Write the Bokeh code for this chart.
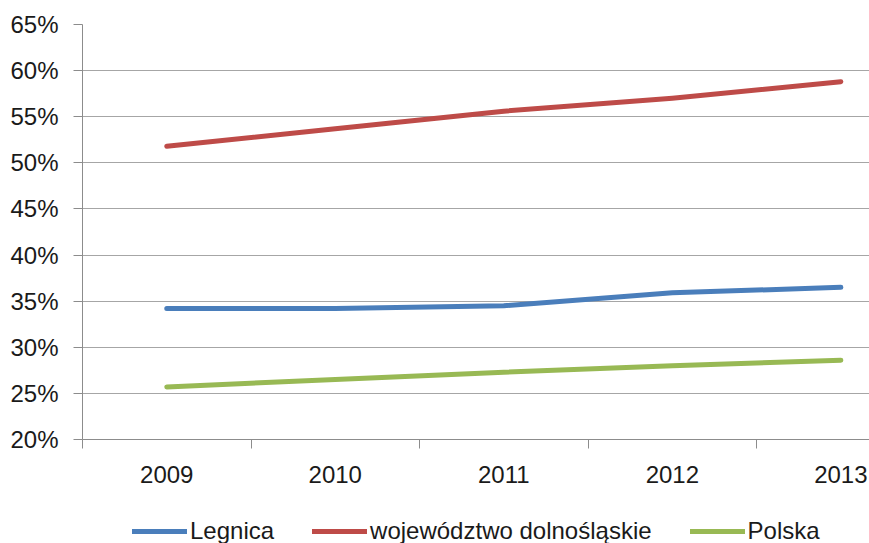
from bokeh.plotting import figure
from bokeh.layouts import column
from bokeh.models import Range1d, FixedTicker, PrintfTickFormatter, Legend, LegendItem
from bokeh.embed import file_html
from bokeh.resources import INLINE

years = [2009, 2010, 2011, 2012, 2013]
legnica = [34.2, 34.2, 34.5, 35.9, 36.5]
dolnoslaskie = [51.8, 53.7, 55.6, 57.0, 58.8]
polska = [25.7, 26.5, 27.3, 28.0, 28.6]
y_ticks = [20, 25, 30, 35, 40, 45, 50, 55, 60, 65]
series_names = ["Legnica", "województwo dolnośląskie", "Polska"]
colors = ["#4A7EBB", "#BE4B48", "#98B954"]

FONT = "Liberation Sans"
TXT = "#1a1a1a"
AXC = "#8c8c8c"

p = figure(width=869, height=500, output_backend="svg", toolbar_location=None,
           x_range=Range1d(2008.5, 2013.17), y_range=Range1d(20, 65),
           min_border_left=82, min_border_top=24, min_border_bottom=61, min_border_right=0)
p.outline_line_color = None
p.background_fill_color = "white"
p.border_fill_color = "white"

# x axis
p.xaxis.ticker = FixedTicker(ticks=years, minor_ticks=[2008.5, 2009.5, 2010.5, 2011.5, 2012.5])
p.xaxis.major_tick_line_color = None
p.xaxis.major_tick_out = 0
p.xaxis.major_tick_in = 0
p.xaxis.minor_tick_out = 9
p.xaxis.minor_tick_in = 0
p.xaxis.minor_tick_line_color = AXC
p.xaxis.axis_line_color = AXC
p.xaxis.major_label_standoff = 17
p.xaxis.major_label_text_font = FONT
p.xaxis.major_label_text_font_size = "24px"
p.xaxis.major_label_text_color = TXT
p.xgrid.grid_line_color = None

# y axis
p.yaxis.ticker = FixedTicker(ticks=y_ticks, minor_ticks=[])
p.yaxis.formatter = PrintfTickFormatter(format="%d%%")
p.yaxis.major_tick_out = 9
p.yaxis.major_tick_in = 0
p.yaxis.major_tick_line_color = AXC
p.yaxis.axis_line_color = AXC
p.yaxis.major_label_standoff = 15
p.yaxis.major_label_text_font = FONT
p.yaxis.major_label_text_font_size = "24px"
p.yaxis.major_label_text_color = TXT
p.ygrid.grid_line_color = "#a6a6a6"
p.ygrid.ticker = FixedTicker(ticks=y_ticks[1:])

renderers = []
for vals, c in zip([legnica, dolnoslaskie, polska], colors):
    r = p.line(years, vals, line_color=c, line_width=5, line_cap="round", line_join="round")
    renderers.append(r)

# legend strip below the chart (its proxy lines lie outside its visible range)
q = figure(width=869, height=43, output_backend="svg", toolbar_location=None,
           x_range=Range1d(0, 1), y_range=Range1d(0, 1),
           min_border_left=0, min_border_top=0, min_border_bottom=0, min_border_right=0)
q.axis.visible = False
q.grid.visible = False
q.outline_line_color = None
q.border_fill_color = "white"
q.background_fill_color = "white"
dummies = [q.line([5, 6], [5, 6], line_color=c, line_width=5, line_cap="round") for c in colors]

legend = Legend(items=[LegendItem(label=n, renderers=[r]) for n, r in zip(series_names, dummies)],
                location=(50, -2), orientation="horizontal")
legend.background_fill_alpha = 0
legend.border_line_color = None
legend.padding = 0
legend.margin = 0
legend.spacing = 38
legend.glyph_width = 55
legend.glyph_height = 20
legend.label_standoff = 3
legend.label_text_font = FONT
legend.label_text_font_size = "24px"
legend.label_text_color = TXT
legend.label_height = 20
q.add_layout(legend, "center")

layout = column(p, q, spacing=0)
open("out.html", "w").write(file_html(layout, INLINE))
